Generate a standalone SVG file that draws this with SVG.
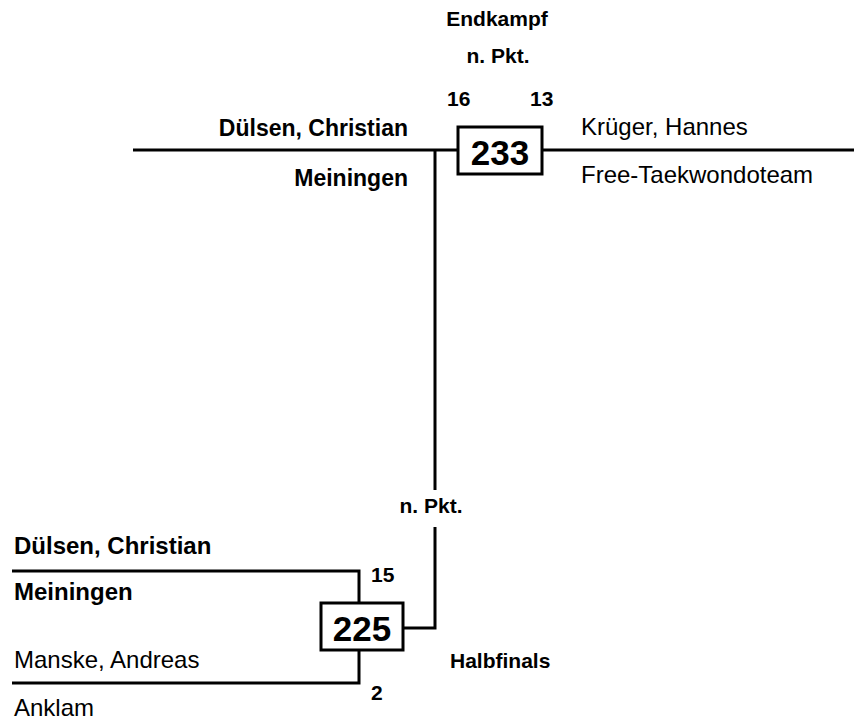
<svg xmlns="http://www.w3.org/2000/svg" width="854" height="722" viewBox="0 0 854 722">
<style>
.ln{stroke:#000;stroke-width:3;fill:none}
.box{stroke:#000;stroke-width:3;fill:#fff}
.t{font-family:"Liberation Sans",Arial,sans-serif;fill:#000}
.b{font-weight:bold}
.lbl{font-size:21px;font-weight:bold}
.nm{font-size:24px}
.nmt{font-size:23px}
.num{font-size:35px;font-weight:bold}
</style>
<rect width="854" height="722" fill="#fff"/>
<g id="connectors">
<path class="ln" d="M133 150H458M542 150H854"/>
<path class="ln" d="M435 150V490M435 527V628H403"/>
<path class="ln" d="M12 571H359V603M12 683H359V650"/>
</g>
<g id="labels">
<text class="t lbl" x="497" y="26" text-anchor="middle">Endkampf</text>
<text class="t lbl" x="498" y="63" text-anchor="middle">n. Pkt.</text>
<text class="t lbl" x="447" y="106">16</text>
<text class="t lbl" x="530" y="106">13</text>
<text class="t lbl" x="431" y="513" text-anchor="middle">n. Pkt.</text>
<text class="t lbl" x="371" y="582">15</text>
<text class="t lbl" x="371" y="700">2</text>
<text class="t lbl" x="450" y="668">Halbfinals</text>
</g>
<g id="node-233">
<rect class="box" x="458" y="127" width="84" height="47"/>
<text class="t num" x="500" y="165" text-anchor="middle">233</text>
</g>
<g id="node-225">
<rect class="box" x="321" y="603" width="82" height="47"/>
<text class="t num" x="362" y="641" text-anchor="middle">225</text>
</g>
<g id="player-duelsen-top">
<text class="t nmt b" x="408" y="136" text-anchor="end">Dülsen, Christian</text>
<text class="t nmt b" x="408" y="186" text-anchor="end">Meiningen</text>
</g>
<g id="player-krueger">
<text class="t nm" x="581" y="135">Krüger, Hannes</text>
<text class="t nm" x="581" y="183">Free-Taekwondoteam</text>
</g>
<g id="player-duelsen-bottom">
<text class="t nm b" x="14" y="554">Dülsen, Christian</text>
<text class="t nm b" x="14" y="600">Meiningen</text>
</g>
<g id="player-manske">
<text class="t nm" x="14" y="668">Manske, Andreas</text>
<text class="t nm" x="14" y="716">Anklam</text>
</g>
</svg>
